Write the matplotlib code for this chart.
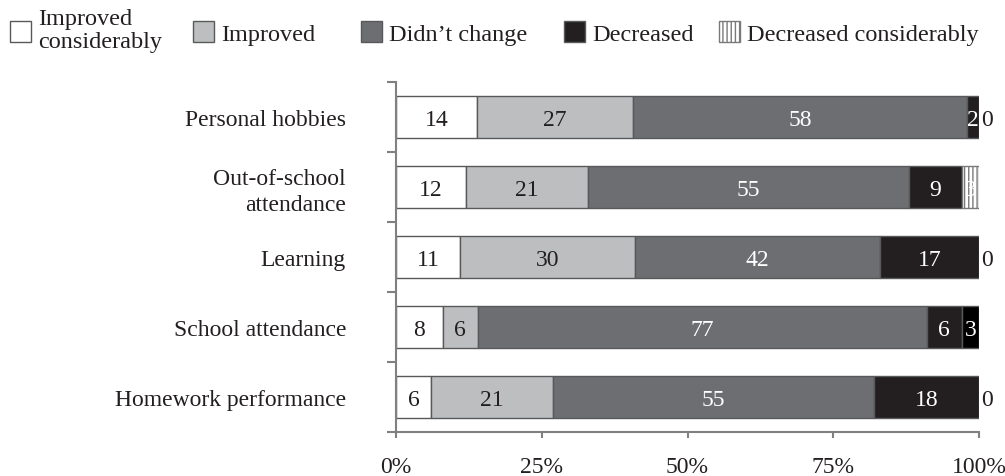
import matplotlib
matplotlib.use("Agg")
import matplotlib.pyplot as plt
import numpy as np
from matplotlib.patches import Rectangle

plt.rcParams['font.family'] = ['Liberation Serif', 'DejaVu Serif']
plt.rcParams['hatch.linewidth'] = 1.0

# categories (top to bottom) and answer groups
categories = ["Personal hobbies", "Out-of-school\nattendance", "Learning",
              "School attendance", "Homework performance"]
series = ["Improved\nconsiderably", "Improved", "Didn\u2019t change",
          "Decreased", "Decreased considerably"]

improved_cons = [14, 12, 11, 8, 6]
improved = [27, 21, 30, 6, 21]
no_change = [58, 55, 42, 77, 55]
decreased = [2, 9, 17, 6, 18]
decreased_cons = [0, 3, 0, 3, 0]

values = np.array([improved_cons, improved, no_change, decreased, decreased_cons], dtype=float)

fills = ["#ffffff", "#bcbec0", "#6d6e71", "#231f20", "#ffffff"]
hatches = [None, None, None, None, "||||"]
txt_colors = ["#231f20", "#231f20", "#ffffff", "#ffffff", "#ffffff"]
edge = "#58595b"
axis_gray = "#808080"
W, H = 1005, 477

fig = plt.figure(figsize=(W / 100, H / 100), dpi=100)
ax = fig.add_axes([396 / W, 1 - 433 / H, (979 - 396) / W, (433 - 83) / H])

shares = values / values.sum(axis=0)
ypos = np.arange(len(categories))
left = np.zeros(len(categories))
for i in range(len(series)):
    for j in range(len(categories)):
        w = shares[i, j]
        fc = fills[i]
        hatch = hatches[i]
        ec = edge
        # the last segment of "School attendance" is printed solid black in the source
        if i == 4 and j == 3:
            fc, hatch = "#000000", None
        if hatch:
            ec = "#7a7a7a"
        if w > 0:
            ax.barh(ypos[j], w, left=left[j], height=0.6, color=fc, edgecolor=ec,
                    linewidth=1.0, hatch=hatch, zorder=2)
            ax.text(left[j] + w / 2, ypos[j], "%d" % values[i, j], ha="center",
                    va="center_baseline", fontsize=17, color=txt_colors[i], zorder=3)
        else:
            ax.text(1.004, ypos[j], "0", ha="left", va="center_baseline", fontsize=17,
                    color="#231f20", zorder=3)
        left[j] += w

ax.set_xlim(0, 1)
ax.set_ylim(len(categories) - 0.5, -0.5)
ax.set_xticks([0, 0.25, 0.5, 0.75, 1.0])
ax.set_xticklabels(["0%", "25%", "50%", "75%", "100%"], fontsize=17, color="#231f20")
ax.set_yticks(ypos)
ax.set_yticklabels(categories, fontsize=17, color="#231f20", ha="right",
                   multialignment="right", linespacing=1.3)
ax.set_yticks(np.arange(-0.5, len(categories)), minor=True)
ax.tick_params(axis="y", which="major", length=0, pad=36)
ax.tick_params(axis="y", which="minor", length=6.5, width=1.5, color=axis_gray)
ax.tick_params(axis="x", length=4.5, width=1.5, color=axis_gray, pad=13)

for s in ["top", "right"]:
    ax.spines[s].set_visible(False)
for s in ["left", "bottom"]:
    ax.spines[s].set_color(axis_gray)
    ax.spines[s].set_linewidth(1.5)

# legend drawn by hand to follow the uneven spacing of the original
leg_x = [10, 193, 361, 564, 719]
sq = 21
for i in range(len(series)):
    x0 = leg_x[i]
    fig.add_artist(Rectangle((x0 / W, 1 - 43 / H), sq / W, sq / H,
                             transform=fig.transFigure, facecolor=fills[i],
                             edgecolor=edge if hatches[i] is None else "#7a7a7a",
                             linewidth=1.0, hatch=hatches[i]))
    # baseline of the last line of each legend label
    base = 48 if "\n" in series[i] else 41
    fig.text((x0 + sq + 7) / W, 1 - base / H, series[i], ha="left", va="baseline",
             fontsize=17.5, color="#231f20", linespacing=1.15)

fig.savefig("out.png", dpi=100)
